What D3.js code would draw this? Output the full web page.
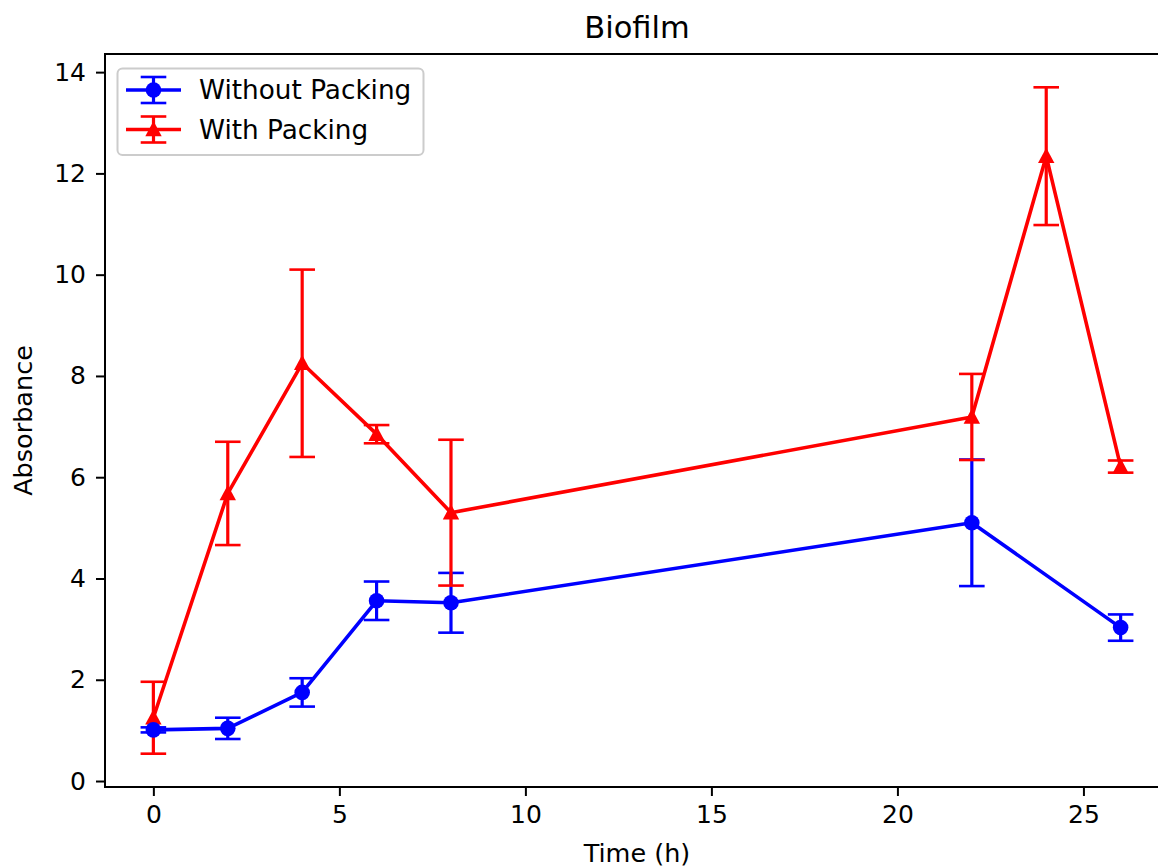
<!DOCTYPE html>
<html>
<head>
<meta charset="utf-8">
<script src="https://cdn.jsdelivr.net/npm/d3@7/dist/d3.min.js"></script>
<style>
  html, body { margin: 0; padding: 0; background: #fff; }
  svg { display: block; font-family: "DejaVu Sans", sans-serif; }
</style>
</head>
<body>
<svg id="chart" width="1158" height="867"></svg>
<script>
// Biofilm absorbance over time, with and without packing (mean ± error)
const timeWithout = [0, 2, 4, 6, 8, 22, 26];
const absWithout  = [1.01, 1.04, 1.75, 3.56, 3.52, 5.10, 3.03];
const errWithout  = [0.05, 0.21, 0.28, 0.38, 0.59, 1.25, 0.26];

const timeWith = [0, 2, 4, 6, 8, 22, 24, 26];
const absWith  = [1.25, 5.68, 8.25, 6.85, 5.30, 7.19, 12.34, 6.21];
const errWith  = [0.71, 1.02, 1.85, 0.18, 1.44, 0.85, 1.36, 0.12];

const xTicks = [0, 5, 10, 15, 20, 25];
const yTicks = [0, 2, 4, 6, 8, 10, 12, 14];

const seriesNames = ["Without Packing", "With Packing"];
const seriesColors = ["#0000ff", "#ff0000"];

const svg = d3.select("#chart");
const margin = { left: 105, right: 1169, top: 54, bottom: 787 };

// Axis limits padded by 5% of the data span (including error bars)
const allX = timeWithout.concat(timeWith);
const xMin = d3.min(allX), xMax = d3.max(allX);
const xPad = (xMax - xMin) * 0.05;
const lows = absWithout.map((v, i) => v - errWithout[i]).concat(absWith.map((v, i) => v - errWith[i]));
const highs = absWithout.map((v, i) => v + errWithout[i]).concat(absWith.map((v, i) => v + errWith[i]));
const yMin = d3.min(lows), yMax = d3.max(highs);
const yPad = (yMax - yMin) * 0.05;

const x = d3.scaleLinear().domain([xMin - xPad, xMax + xPad]).range([margin.left, margin.right]);
const y = d3.scaleLinear().domain([yMin - yPad, yMax + yPad]).range([margin.bottom, margin.top]);

const fontSize = 25;

// Frame
svg.append("rect")
  .attr("x", margin.left).attr("y", margin.top)
  .attr("width", margin.right - margin.left).attr("height", margin.bottom - margin.top)
  .attr("fill", "none").attr("stroke", "#000").attr("stroke-width", 2);

// Axes
const xAxis = d3.axisBottom(x).tickValues(xTicks).tickSize(9).tickPadding(9).tickFormat(d3.format("d"));
const gx = svg.append("g").attr("transform", `translate(0,${margin.bottom})`).call(xAxis);
const yAxis = d3.axisLeft(y).tickValues(yTicks).tickSize(9).tickPadding(10).tickFormat(d3.format("d"));
const gy = svg.append("g").attr("transform", `translate(${margin.left},0)`).call(yAxis);
[gx, gy].forEach(g => {
  g.select(".domain").remove();
  g.selectAll(".tick line").attr("stroke", "#000").attr("stroke-width", 2);
  g.selectAll(".tick text").attr("fill", "#000").style("font-size", fontSize + "px")
    .style("font-family", "DejaVu Sans");
});

// Title and axis labels
svg.append("text").attr("x", (margin.left + margin.right) / 2).attr("y", 38)
  .attr("text-anchor", "middle").style("font-size", "30.5px").attr("fill", "#000").text("Biofilm");
svg.append("text").attr("x", (margin.left + margin.right) / 2).attr("y", 862)
  .attr("text-anchor", "middle").style("font-size", "25.5px").attr("fill", "#000").text("Time (h)");
svg.append("text").attr("transform", `translate(32,${(margin.top + margin.bottom) / 2}) rotate(-90)`)
  .attr("text-anchor", "middle").style("font-size", "25.5px").attr("fill", "#000").text("Absorbance");

svg.append("clipPath").attr("id", "plot-clip").append("rect")
  .attr("x", margin.left).attr("y", margin.top)
  .attr("width", margin.right - margin.left).attr("height", margin.bottom - margin.top);

const plot = svg.append("g").attr("clip-path", "url(#plot-clip)");

const series = [
  { t: timeWithout, v: absWithout, e: errWithout, color: seriesColors[0], marker: "circle" },
  { t: timeWith, v: absWith, e: errWith, color: seriesColors[1], marker: "triangle" }
];

const cap = 12.8;

// Error bars (below the data lines)
series.forEach(s => {
  const g = plot.append("g");
  s.t.forEach((t, i) => {
    const cx = x(t), lo = y(s.v[i] - s.e[i]), hi = y(s.v[i] + s.e[i]);
    g.append("line").attr("x1", cx).attr("x2", cx).attr("y1", lo).attr("y2", hi)
      .attr("stroke", s.color).attr("stroke-width", 3.2);
    [lo, hi].forEach(cy => g.append("line").attr("x1", cx - cap).attr("x2", cx + cap)
      .attr("y1", cy).attr("y2", cy).attr("stroke", s.color).attr("stroke-width", 2.6));
  });
});

const triPath = "M0,-8.5L8.2,6.8L-8.2,6.8Z";

function drawMarker(g, marker, cx, cy, color) {
  if (marker === "circle") {
    g.append("circle").attr("cx", cx).attr("cy", cy).attr("r", 7.8).attr("fill", color);
  } else {
    g.append("path").attr("d", triPath).attr("transform", `translate(${cx},${cy})`).attr("fill", color);
  }
}

// Data lines and markers: red first, blue on top
[series[1], series[0]].forEach(s => {
  const g = plot.append("g");
  const line = d3.line().x((d, i) => x(s.t[i])).y(d => y(d));
  g.append("path").datum(s.v).attr("d", line).attr("fill", "none")
    .attr("stroke", s.color).attr("stroke-width", 3.6).attr("stroke-linejoin", "round");
  s.t.forEach((t, i) => drawMarker(g, s.marker, x(t), y(s.v[i]), s.color));
});

// Legend
const legend = svg.append("g");
legend.append("rect").attr("x", 117.5).attr("y", 68.5).attr("width", 306).attr("height", 86.5)
  .attr("rx", 5).attr("fill", "#fff").attr("fill-opacity", 0.8)
  .attr("stroke", "#cccccc").attr("stroke-width", 2);
series.forEach((s, k) => {
  const cy = 90 + k * 39.5;
  const g = legend.append("g");
  g.append("line").attr("x1", 126).attr("x2", 181).attr("y1", cy).attr("y2", cy)
    .attr("stroke", s.color).attr("stroke-width", 3.6);
  g.append("line").attr("x1", 153.5).attr("x2", 153.5).attr("y1", cy - 13).attr("y2", cy + 13)
    .attr("stroke", s.color).attr("stroke-width", 3.2);
  [cy - 13, cy + 13].forEach(yy => g.append("line").attr("x1", 153.5 - cap).attr("x2", 153.5 + cap)
    .attr("y1", yy).attr("y2", yy).attr("stroke", s.color).attr("stroke-width", 2.6));
  drawMarker(g, s.marker, 153.5, cy, s.color);
  g.append("text").attr("x", 199).attr("y", cy + 9).style("font-size", "26.3px")
    .attr("fill", "#000").text(seriesNames[k]);
});
</script>
</body>
</html>
